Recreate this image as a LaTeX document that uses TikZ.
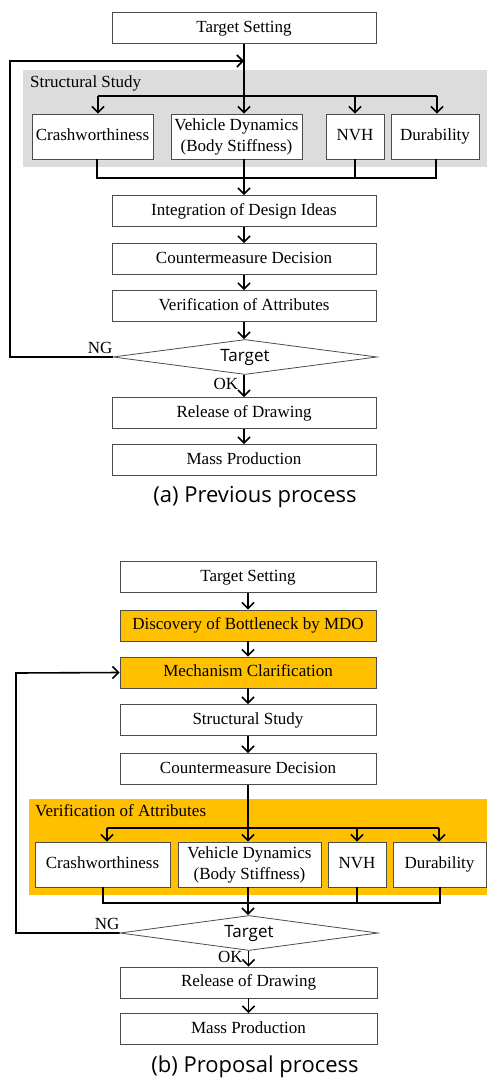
\documentclass[tikz,border=0pt]{standalone}
\usepackage{fontspec}
\setmainfont{Liberation Serif}
\newfontfamily\capfont{Open Sans}
\usetikzlibrary{arrows.meta}
\usetikzlibrary{shapes.geometric}
\usetikzlibrary{positioning}
\definecolor{hilite}{HTML}{FFC000}
\definecolor{groupgray}{HTML}{DCDCDC}

\begin{document}
\begin{tikzpicture}[x=1pt, y=-1pt,
		font=\fontsize{17}{21}\selectfont,
		tblock/.style={draw=black!70, line width=0.8pt, fill=white, inner sep=0pt, minimum height=31pt},
		block/.style={tblock, text height=12pt, text depth=4pt},
		hblock/.style={block, fill=hilite},
		group/.style={inner sep=0pt},
		decision/.style={diamond, draw=black!70, line width=0.8pt, fill=white, aspect=7.5, inner sep=0pt, font=\fontsize{17}{21}\selectfont\capfont},
		line/.style={line width=1.6pt},
		arr/.style={line, -{Straight Barb[length=6pt, width=12pt]}},
		caption/.style={font=\fontsize{22}{26}\selectfont\capfont},
	]
		\useasboundingbox (0,0) rectangle (487,1079);

		% (a) previous process
		\node[block, minimum width=264pt] (ts1) at (244,28) {Target Setting};
		\node[group, fill=groupgray, minimum width=464pt, minimum height=97pt] (sg1) at (255,118.5) {};
		\node[anchor=north west, inner sep=0pt] (sgl1) at (30,76) {Structural Study};

		\node[block, minimum width=121pt, minimum height=45pt] (crash1) at (92.5,136.5) {Crashworthiness};
		\node[tblock, minimum width=131pt, minimum height=45pt, align=center] (veh1) at (236.5,136.5) {Vehicle Dynamics\\(Body Stiffness)};
		\node[block, minimum width=58pt, minimum height=45pt] (nvh1) at (355,136.5) {NVH};
		\node[block, minimum width=88pt, minimum height=45pt] (dur1) at (435,136.5) {Durability};

		\node[block, minimum width=264pt] (int1) at (244,211) {Integration of Design Ideas};
		\node[block, minimum width=264pt] (cm1) at (244,259) {Countermeasure Decision};
		\node[block, minimum width=264pt] (ver1) at (244,306) {Verification of Attributes};
		\node[decision, minimum width=264pt, minimum height=35pt] (tg1) at (245,357) {Target};
		\node[block, minimum width=264pt] (rel1) at (244,413) {Release of Drawing};
		\node[block, minimum width=264pt] (mp1) at (244,460) {Mass Production};
		\node[caption] (cap1) at (255,497) {(a) Previous process};

		\coordinate (da1) at (98,96);
		\coordinate (db1) at (437,96);
		\coordinate (ca1) at (97,178);
		\coordinate (cb1) at (436,178);
		\coordinate (fb1) at (10,61);

		\draw[arr] (ts1.south) -- (ts1.south|-veh1.north);
		\draw[line] (da1) -- (db1);
		\draw[arr] (da1) -- (da1|-crash1.north);
		\draw[arr] (db1) -- (db1|-dur1.north);
		\draw[arr] (nvh1.north|-da1) -- (nvh1.north);
		\draw[line] (ca1|-crash1.south) -- (ca1) -- (cb1) -- (cb1|-dur1.south);
		\draw[line] (nvh1.south) -- (nvh1.south|-ca1);
		\draw[arr] (ts1.south|-veh1.south) -- (ts1.south|-int1.north);
		\draw[arr] (int1) -- (cm1);
		\draw[arr] (cm1) -- (ver1);
		\draw[arr] (ver1.south) -- (ver1.south|-tg1.north);
		\draw[arr] (tg1.south-|rel1.north) -- (rel1.north) node[pos=0.4, left=5pt, inner sep=0pt] (ok1) {OK};
		\draw[arr] (rel1) -- (mp1);
		\draw[arr] (tg1.west) -- (tg1.west-|fb1) -- (fb1) -- (fb1-|ts1.south);
		\node[above left=3pt and 0pt of tg1.west, inner sep=0pt] (ng1) {NG};

		% (b) proposal process
		\node[block, minimum width=256pt] (ts2) at (248,577) {Target Setting};
		\node[hblock, minimum width=256pt] (dis2) at (248,625.5) {Discovery of Bottleneck by MDO};
		\node[hblock, minimum width=256pt] (mech2) at (248,672.5) {Mechanism Clarification};
		\node[block, minimum width=256pt] (ss2) at (248,720) {Structural Study};
		\node[block, minimum width=256pt] (cm2) at (248,769) {Countermeasure Decision};
		\node[group, fill=hilite, minimum width=458pt, minimum height=96pt] (va2) at (258,847) {};
		\node[anchor=north west, inner sep=0pt] (val2) at (35,804) {Verification of Attributes};

		\node[block, minimum width=135pt, minimum height=45pt] (crash2) at (102.5,864.5) {Crashworthiness};
		\node[tblock, minimum width=143pt, minimum height=45pt, align=center] (veh2) at (249.5,864.5) {Vehicle Dynamics\\(Body Stiffness)};
		\node[block, minimum width=58pt, minimum height=45pt] (nvh2) at (357,864.5) {NVH};
		\node[block, minimum width=93pt, minimum height=45pt] (dur2) at (439.5,864.5) {Durability};

		\node[decision, minimum width=258pt, minimum height=35pt] (tg2) at (249,933) {Target};
		\node[block, minimum width=257pt] (rel2) at (248.5,982.5) {Release of Drawing};
		\node[block, minimum width=257pt] (mp2) at (248.5,1029) {Mass Production};
		\node[caption] (cap2) at (255,1067) {(b) Proposal process};

		\coordinate (da2) at (107,828);
		\coordinate (db2) at (439,828);
		\coordinate (ca2) at (103,903);
		\coordinate (cb2) at (440,903);
		\coordinate (fb2) at (16,673);

		\draw[arr] (ts2) -- (dis2);
		\draw[arr] (dis2) -- (mech2);
		\draw[arr] (mech2) -- (ss2);
		\draw[arr] (ss2) -- (cm2);
		\draw[arr] (cm2.south) -- (cm2.south|-veh2.north);
		\draw[line] (da2) -- (db2);
		\draw[arr] (da2) -- (da2|-crash2.north);
		\draw[arr] (db2) -- (db2|-dur2.north);
		\draw[arr] (nvh2.north|-da2) -- (nvh2.north);
		\draw[line] (ca2|-crash2.south) -- (ca2) -- (cb2) -- (cb2|-dur2.south);
		\draw[line] (nvh2.south) -- (nvh2.south|-ca2);
		\draw[arr] (cm2.south|-veh2.south) -- (cm2.south|-tg2.north);
		\draw[arr] (tg2.south-|rel2.north) -- (rel2.north) node[pos=0.4, left=5pt, inner sep=0pt] (ok2) {OK};
		\draw[arr] (rel2) -- (mp2);
		\draw[arr] (tg2.west) -- (tg2.west-|fb2) -- (fb2) -- (mech2.west);
		\node[above left=3pt and 0pt of tg2.west, inner sep=0pt] (ng2) {NG};
	\end{tikzpicture}
\end{document}
